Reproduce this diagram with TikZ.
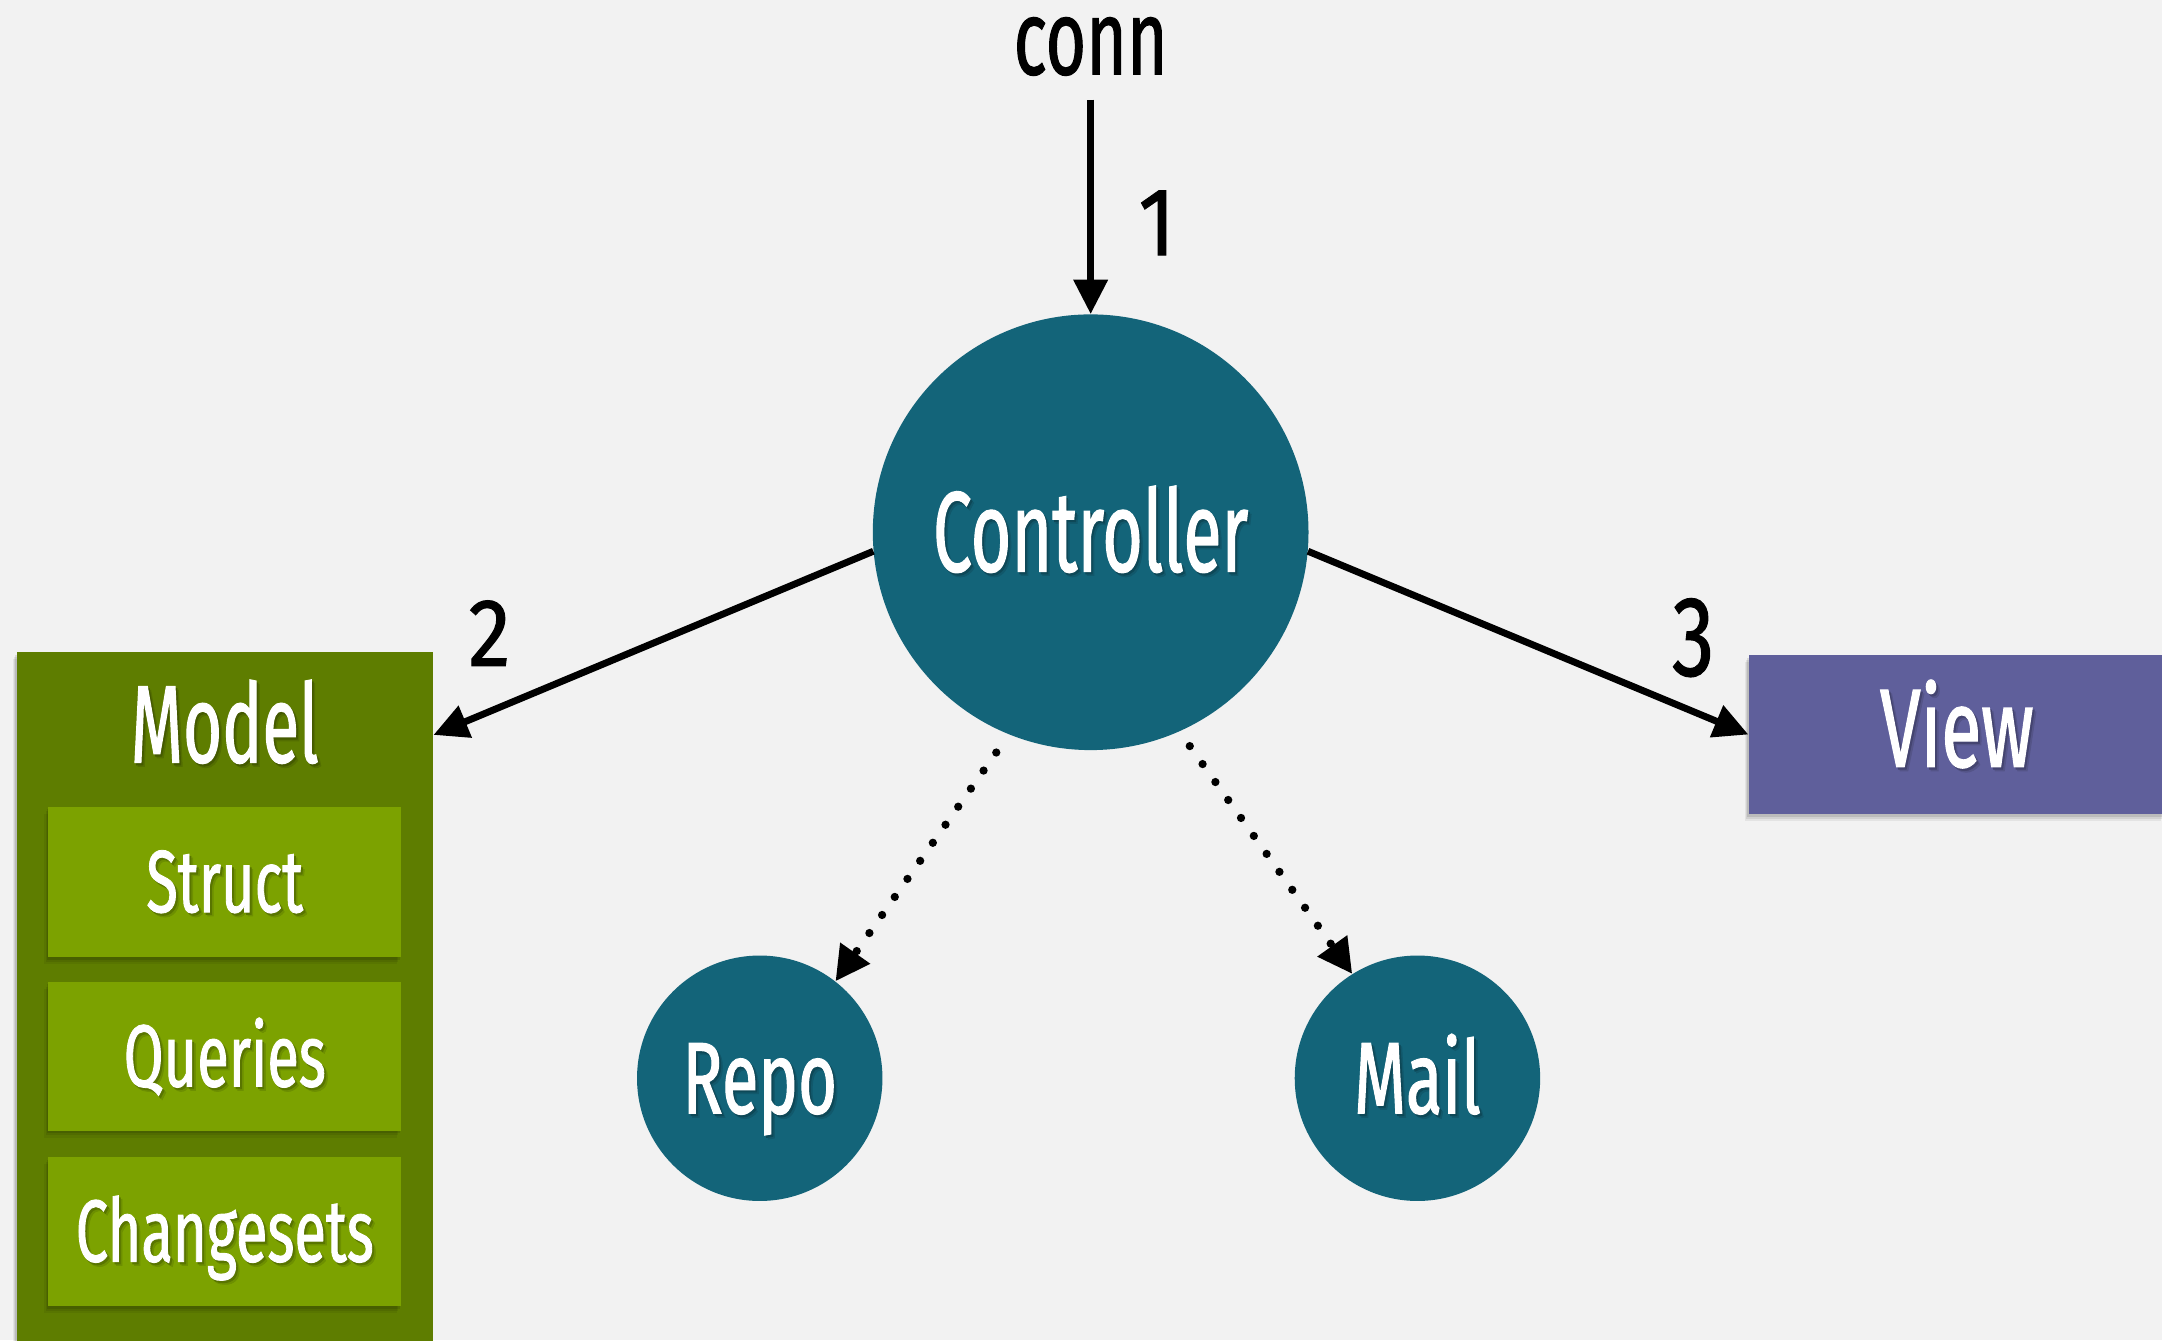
\documentclass[tikz,border=0pt]{standalone}
\usepackage{fontspec}
\usepackage{graphicx}
\newfontfamily\cond{Fira Sans}[FakeStretch=0.655, FakeBold=1]
\newfontfamily\digitface{Fira Sans}[FakeStretch=0.88, FakeBold=1]
\usetikzlibrary{arrows.meta}

\definecolor{paper}{HTML}{F2F2F2}
\definecolor{ctrlteal}{HTML}{136479}
\definecolor{modeldark}{HTML}{5E7D00}
\definecolor{modellight}{HTML}{7CA200}
\definecolor{viewpurple}{HTML}{5F5F9B}

% white label with a soft dark copy offset down-right
\newcommand\shadowed[2]{%
  \rlap{\kern2.6pt\raisebox{-2.8pt}{\textcolor{#1!88!black}{#2}}}%
  \rlap{\kern1.4pt\raisebox{-1.6pt}{\textcolor{#1!72!black}{#2}}}#2}

\tikzset{
  fsz/.style={font=\cond\fontsize{#1}{#1}\selectfont},
  softshadow/.style={
    preaction={fill=black, opacity=0.06, transform canvas={xshift=-3pt, yshift=-5pt}},
    preaction={fill=black, opacity=0.08, transform canvas={xshift=-2pt, yshift=-3.5pt}},
    preaction={fill=black, opacity=0.10, transform canvas={xshift=-1pt, yshift=-2pt}}},
  bubble/.style={circle, fill=ctrlteal, inner sep=0pt, text=white, text depth=0pt},
  blockbox/.style={rectangle, inner sep=0pt, text=white, softshadow},
  numlabel/.style={font=\digitface\fontsize{70}{70}\selectfont, text=black, inner sep=0pt, anchor=base},
  arr/.style={line width=5pt, -{Triangle[length=25pt, width=24pt]}},
  dotarr/.style={line width=6pt, line cap=round, dash pattern=on 0pt off 16pt,
    -{Triangle[length=25pt, width=25pt]}}
}

\begin{document}
\begin{tikzpicture}[x=1pt, y=-1pt]
  \useasboundingbox (0,0) rectangle (1568,972);
  \fill[paper] (0,0) rectangle (1568,972);

  % Controller and its helpers
  \node[bubble, minimum size=316pt, fsz=83, text height=57pt] (ctrl) at (791,386)
    {\scalebox{0.93}[1]{\shadowed{ctrlteal}{Controller}}};
  \node[bubble, minimum size=178pt, fsz=74, text height=51pt] (repo) at (551,782)
    {\shadowed{ctrlteal}{Repo}};
  \node[bubble, minimum size=178pt, fsz=74, text height=51pt] (mail) at (1028,782)
    {\shadowed{ctrlteal}{Mail}};

  % incoming connection
  \node[fsz=77, text=black, anchor=base, inner xsep=0pt, inner ysep=3pt,
    text height=41pt, text depth=0pt] (conn) at (791,54) {conn};

  % Model container with its parts
  \node[blockbox, fill=modeldark, anchor=north west, minimum width=302pt, minimum height=530pt]
    (model) at (12,473) {};
  \node[fsz=80, text=white, inner sep=0pt, text height=55pt, text depth=0pt] (modeltitle) at (163,525.5)
    {\scalebox{0.93}[1]{\shadowed{modeldark}{Model}}};
  \node[blockbox, fill=modellight, minimum width=256pt, minimum height=109pt, fsz=64,
    text height=44pt, text depth=0pt] (struct) at (163,639.5)
    {\shadowed{modellight}{Struct}};
  \node[blockbox, fill=modellight, minimum width=256pt, minimum height=108pt, fsz=64,
    text height=44pt, text depth=0pt] (queries) at (163,766)
    {\shadowed{modellight}{Queries}};
  \node[blockbox, fill=modellight, minimum width=256pt, minimum height=108pt, fsz=64,
    text height=44pt, text depth=0pt] (changesets) at (163,893)
    {\shadowed{modellight}{Changesets}};

  % View
  \node[blockbox, fill=viewpurple, anchor=north west, minimum width=302pt, minimum height=115pt,
    fsz=81, text height=56pt, text depth=9pt] (view) at (1268,475)
    {\shadowed{viewpurple}{View}};

  % step numbers
  \node[numlabel] (n1) at (839,185) {1};
  \node[numlabel] (n2) at (355,483) {2};
  \node[numlabel] (n3) at (1228,490) {\scalebox{1}[1.18]{3}};

  % connectors
  \draw[arr, shorten <=15pt] (conn.south) -- (ctrl.north);
  \draw[arr] (ctrl.185) -- ([yshift=-60pt]model.north east);
  \draw[arr] (ctrl.355) -- (view.west);
  \draw[dotarr, shorten <=16pt] (ctrl.248) -- (repo.52);
  \draw[dotarr, shorten <=13pt] (ctrl.294) -- (mail.122);
\end{tikzpicture}
\end{document}
